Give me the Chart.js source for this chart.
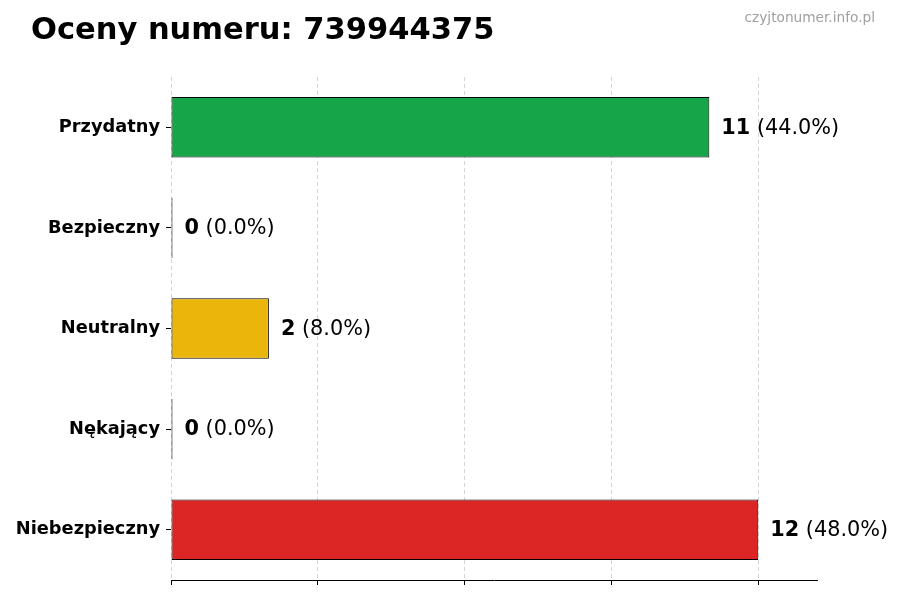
<!DOCTYPE html>
<html>
<head>
<meta charset="utf-8">
<script src="https://cdn.jsdelivr.net/npm/chart.js@4/dist/chart.umd.min.js"></script>
<style>
  body { margin: 0; background: #fff; }
  #box { position: relative; width: 900px; height: 600px; }
  #title { position: absolute; left: 31px; top: 11px; font: bold 30.5px "DejaVu Sans"; color: #000; white-space: nowrap; }
  #site { position: absolute; right: 25px; top: 9px; font: 13.7px "DejaVu Sans"; color: #a0a0a0; }
</style>
</head>
<body>
<div id="box">
  <canvas id="myChart" width="900" height="600"></canvas>
  <div id="title">Oceny numeru: 739944375</div>
  <div id="site">czyjtonumer.info.pl</div>
</div>
<script>
// dane //
const kategorie = ['Przydatny', 'Bezpieczny', 'Neutralny', 'Nękający', 'Niebezpieczny'];
const oceny = [11, 0, 2, 0, 12];
const kolory = ['#17a54a', '#222222', '#eab60c', '#222222', '#dc2626'];
const osX = [0, 3, 6, 9, 12];

const suma = oceny.reduce((a, b) => a + b, 0);

// etykiety przy slupkach //
const etykiety = {
    id: 'etykiety',
    afterDatasetsDraw(chart) {
        const c = chart.ctx;
        const meta = chart.getDatasetMeta(0);
        c.save();
        c.textBaseline = 'middle';
        c.fillStyle = '#000';
        meta.data.forEach((bar, i) => {
            const v = oceny[i];
            const x = bar.x + 12;
            c.font = 'bold 20.8px "DejaVu Sans"';
            const t1 = String(v);
            c.fillText(t1, x, bar.y + 1);
            const w = c.measureText(t1).width;
            c.font = '20.8px "DejaVu Sans"';
            c.fillText(' (' + (v / suma * 100).toFixed(1) + '%)', x + w, bar.y + 1);
        });
        c.restore();
    }
};

const ctx = document.getElementById('myChart');

new Chart(ctx, {
    type: 'bar',
    data: {
        labels: kategorie,
        datasets: [{
            data: oceny,
            backgroundColor: kolory,
            borderColor: '#000',
            borderWidth: 1,
            borderSkipped: false,
            minBarLength: 1.5,
            categoryPercentage: 0.6,
            barPercentage: 1
        }]
    },
    options: {
        indexAxis: 'y',
        responsive: false,
        animation: false,
        layout: { padding: { top: 77, right: 83, bottom: 0, left: 0 } },
        plugins: {
            legend: { display: false },
            tooltip: { enabled: false }
        },
        scales: {
            x: {
                min: 0,
                max: 13.2,
                afterBuildTicks: (s) => { s.ticks = osX.map(v => ({ value: v })); },
                afterFit: (s) => { s.height = 20; },
                ticks: { display: false },
                grid: {
                    color: '#d4d4d4',
                    lineWidth: 1,
                    drawTicks: true,
                    tickLength: 5,
                    tickColor: '#000',
                    tickBorderDash: []
                },
                border: { display: true, color: '#000', width: 1, dash: [4, 3] }
            },
            y: {
                afterFit: (s) => { s.width = 171; },
                ticks: {
                    color: '#000',
                    padding: 6,
                    font: { family: 'DejaVu Sans', size: 17.8, weight: 'bold' }
                },
                grid: {
                    offset: false,
                    drawOnChartArea: false,
                    drawTicks: true,
                    tickLength: 5,
                    tickColor: '#000'
                },
                border: { display: false }
            }
        }
    },
    plugins: [etykiety]
});
</script>
</body>
</html>
